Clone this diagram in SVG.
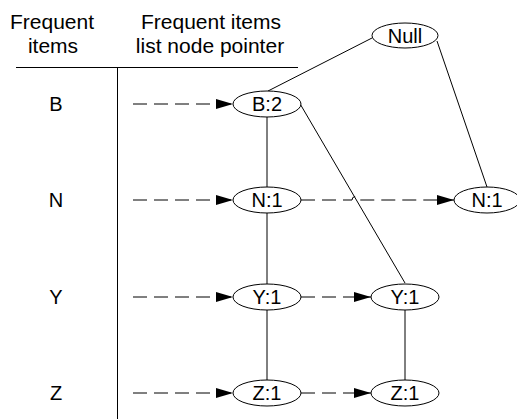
<svg xmlns="http://www.w3.org/2000/svg" width="517" height="419" viewBox="0 0 517 419">
<defs>
<marker id="arr" markerUnits="userSpaceOnUse" markerWidth="17" markerHeight="10" refX="17" refY="5" orient="auto">
<path d="M0,0 L17,5 L0,10 z" fill="#000"/>
</marker>
<style>
.hdr{font-family:"Liberation Sans",Arial,sans-serif;font-size:21px;fill:#000;text-anchor:middle}
.lbl{font-family:"Liberation Sans",Arial,sans-serif;font-size:20px;fill:#000;text-anchor:middle}
.node ellipse{fill:#fff;stroke:#000;stroke-width:1}
.edge{fill:none;stroke:#000;stroke-width:1}
.ptr{fill:none;stroke:#000;stroke-width:1;stroke-dasharray:14 7;marker-end:url(#arr)}
.rule{stroke:#000;stroke-width:1}
</style>
</defs>
<rect width="517" height="419" fill="#fff"/>
<g id="table">
<text class="hdr" x="52" y="29">Frequent</text>
<text class="hdr" x="53" y="53">items</text>
<text class="hdr" x="211" y="29">Frequent items</text>
<text class="hdr" x="210" y="53">list node pointer</text>
<line class="rule" x1="16" y1="67.5" x2="298" y2="67.5"/>
<line class="rule" x1="117.5" y1="67.5" x2="117.5" y2="419"/>
<text class="lbl" x="56" y="111">B</text>
<text class="lbl" x="56" y="207">N</text>
<text class="lbl" x="56" y="304">Y</text>
<text class="lbl" x="56" y="400">Z</text>
</g>
<g id="connectors">
<line class="edge" x1="372" y1="38" x2="268" y2="91"/>
<line class="edge" x1="437" y1="41" x2="487" y2="187"/>
<line class="edge" x1="299" y1="102" x2="405" y2="283"/>
<line class="edge" x1="267" y1="117" x2="267" y2="187"/>
<line class="edge" x1="267" y1="213" x2="267" y2="284"/>
<line class="edge" x1="267" y1="310" x2="267" y2="380"/>
<line class="edge" x1="405" y1="310" x2="405" y2="380"/>
<line class="ptr" x1="133" y1="104" x2="233" y2="104"/>
<line class="ptr" x1="133" y1="200" x2="233" y2="200"/>
<line class="ptr" x1="133" y1="297" x2="233" y2="297"/>
<line class="ptr" x1="133" y1="393" x2="233" y2="393"/>
<path class="ptr" d="M301,200 L352,200 A3.5,3.5 0 0 1 359,200 L454,200"/>
<line class="ptr" x1="301" y1="297" x2="371" y2="297"/>
<line class="ptr" x1="301" y1="393" x2="371" y2="393"/>
</g>
<g id="null" class="node"><ellipse cx="405" cy="35.5" rx="33" ry="12.5"/><text class="lbl" x="405" y="42.5">Null</text></g>
<g id="b2" class="node"><ellipse cx="267" cy="104" rx="34" ry="13"/><text class="lbl" x="267" y="111">B:2</text></g>
<g id="n1a" class="node"><ellipse cx="267" cy="200" rx="34" ry="13"/><text class="lbl" x="267" y="207">N:1</text></g>
<g id="n1b" class="node"><ellipse cx="487" cy="200" rx="33" ry="13"/><text class="lbl" x="487" y="207">N:1</text></g>
<g id="y1a" class="node"><ellipse cx="267" cy="297" rx="34" ry="13"/><text class="lbl" x="267" y="304">Y:1</text></g>
<g id="y1b" class="node"><ellipse cx="405" cy="297" rx="34" ry="13"/><text class="lbl" x="405" y="304">Y:1</text></g>
<g id="z1a" class="node"><ellipse cx="267" cy="393" rx="34" ry="13"/><text class="lbl" x="267" y="400">Z:1</text></g>
<g id="z1b" class="node"><ellipse cx="405" cy="393" rx="34" ry="13"/><text class="lbl" x="405" y="400">Z:1</text></g>
</svg>
